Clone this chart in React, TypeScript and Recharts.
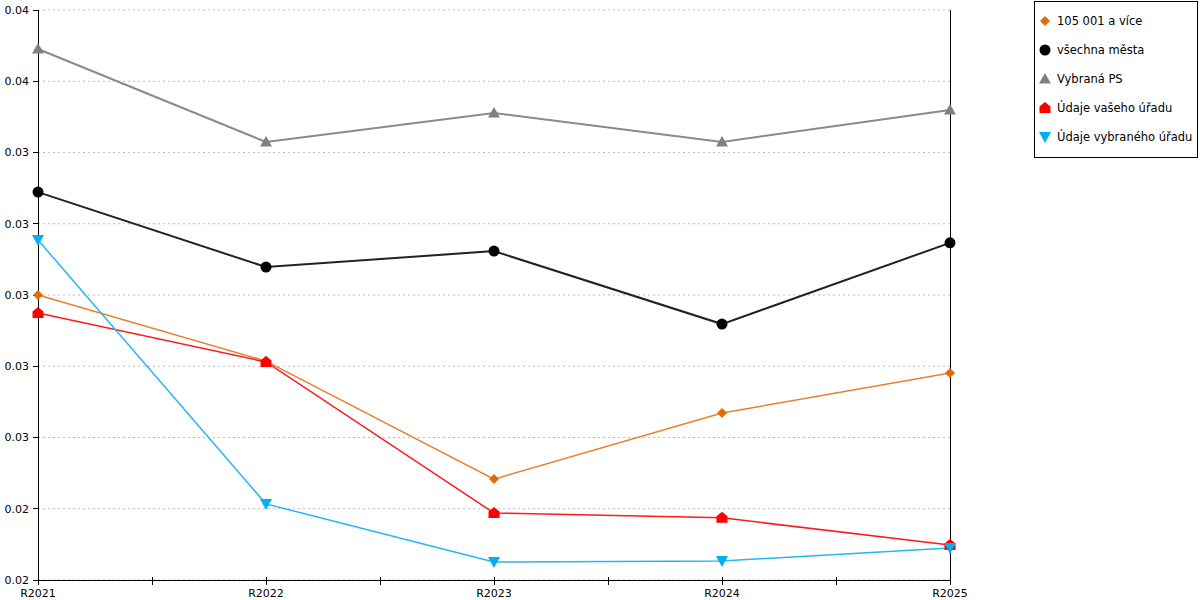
import React from 'react';
import { LineChart, Line, XAxis, YAxis, CartesianGrid, Legend, ReferenceLine } from 'recharts';

// years on the x axis
const categories = ['R2021', 'R2022', 'R2023', 'R2024', 'R2025'];

// series values
const mestaNad105 = [0.03, 0.02768, 0.02354, 0.02586, 0.02726];
const vsechnaMesta = [0.03361, 0.03098, 0.03154, 0.02898, 0.03183];
const vybranaPS = [0.03863, 0.03537, 0.03639, 0.03537, 0.03649];
const vasUrad = [0.02937, 0.02765, 0.02235, 0.02218, 0.02123];
const vybranyUrad = [0.03193, 0.02267, 0.02063, 0.02067, 0.02112];

const yTicks = [0.02, 0.0225, 0.025, 0.0275, 0.03, 0.0325, 0.035, 0.0375, 0.04];
const yTickLabels = ['0.02', '0.02', '0.03', '0.03', '0.03', '0.03', '0.03', '0.04', '0.04'];
const xTicks = [0, 0.5, 1, 1.5, 2, 2.5, 3, 3.5, 4];

const FONT = '"DejaVu Sans", Verdana, sans-serif';

const series = [
  { key: 'nad105', name: '105 001 a více', color: '#E36C0A', line: '#E8802E', width: 1.5, shape: 'diamond' },
  { key: 'vsechna', name: 'všechna města', color: '#000000', line: '#222222', width: 2, shape: 'circle' },
  { key: 'ps', name: 'Vybraná PS', color: '#808080', line: '#8a8a8a', width: 2, shape: 'triangle' },
  { key: 'vas', name: 'Údaje vašeho úřadu', color: '#FF0000', line: '#FF1a1a', width: 1.5, shape: 'house' },
  { key: 'vybrany', name: 'Údaje vybraného úřadu', color: '#00B0F0', line: '#22B8F0', width: 1.5, shape: 'down' },
];

const data = categories.map((c, i) => ({
  idx: i,
  label: c,
  nad105: mestaNad105[i],
  vsechna: vsechnaMesta[i],
  ps: vybranaPS[i],
  vas: vasUrad[i],
  vybrany: vybranyUrad[i],
}));

function Marker({ shape, cx, cy, fill }: { shape: string; cx: number; cy: number; fill: string }) {
  switch (shape) {
    case 'diamond':
      return <path d={`M${cx},${cy - 5}L${cx + 5},${cy}L${cx},${cy + 5}L${cx - 5},${cy}Z`} fill={fill} />;
    case 'circle':
      return <circle cx={cx} cy={cy} r={5.5} fill={fill} />;
    case 'triangle':
      return <path d={`M${cx},${cy - 6}L${cx + 6},${cy + 4.5}L${cx - 6},${cy + 4.5}Z`} fill={fill} />;
    case 'house':
      return (
        <path
          d={`M${cx},${cy - 6}L${cx + 5.5},${cy - 1.5}L${cx + 5.5},${cy + 5}L${cx - 5.5},${cy + 5}L${cx - 5.5},${cy - 1.5}Z`}
          fill={fill}
        />
      );
    default:
      return <path d={`M${cx - 6},${cy - 5}L${cx + 6},${cy - 5}L${cx},${cy + 6}Z`} fill={fill} />;
  }
}

function XTick(props: any) {
  const { x, y, payload } = props;
  const v = payload.value as number;
  const isCat = Number.isInteger(v);
  return (
    <g>
      <line x1={x} x2={x} y1={y - 3} y2={y + 5} stroke="#000" shapeRendering="crispEdges" />
      {isCat && (
        <text x={x} y={y + 17} textAnchor="middle" fontSize={11} fontFamily={FONT} fill="#000">
          {categories[v]}
        </text>
      )}
    </g>
  );
}

function LegendBox() {
  return (
    <div
      style={{
        width: 162,
        height: 151,
        border: '1px solid #000',
        background: '#fff',
        fontFamily: FONT,
        fontSize: 11.5,
        color: '#000',
        paddingTop: 4,
        boxSizing: 'content-box',
      }}
    >
      {series.map((s) => (
        <div key={s.key} style={{ height: 29, display: 'flex', alignItems: 'center', whiteSpace: 'nowrap' }}>
          <svg width={20} height={14} style={{ marginLeft: 2 }}>
            <Marker shape={s.shape} cx={8} cy={7} fill={s.color} />
          </svg>
          <span>{s.name}</span>
        </div>
      ))}
    </div>
  );
}

export default function App() {
  return (
    <div style={{ position: 'absolute', left: 0, top: 0, background: '#fff' }}>
      <LineChart width={1200} height={600} data={data} margin={{ top: 10, right: 250, bottom: 0, left: 0 }}>
        <CartesianGrid vertical={false} stroke="#bdbdbd" strokeDasharray="2 3" />
        <XAxis
          dataKey="idx"
          type="number"
          domain={[0, 4]}
          ticks={xTicks}
          interval={0}
          height={20}
          tickLine={false}
          tickSize={0}
          tickMargin={0}
          axisLine={{ stroke: '#000', shapeRendering: 'crispEdges' }}
          tick={<XTick />}
        />
        <YAxis
          type="number"
          domain={[0.02, 0.04]}
          ticks={yTicks}
          interval={0}
          width={38}
          tickSize={5}
          tickMargin={4}
          axisLine={{ stroke: '#000', shapeRendering: 'crispEdges' }}
          tickLine={{ stroke: '#000', shapeRendering: 'crispEdges' }}
          tick={{ fontSize: 11, fontFamily: FONT, fill: '#000' }}
          tickFormatter={(_v: number, i: number) => yTickLabels[i]}
        />
        <ReferenceLine x={4} stroke="#000" strokeOpacity={1} shapeRendering="crispEdges" />
        {series.map((s) => (
          <Line
            key={s.key}
            type="linear"
            dataKey={s.key}
            name={s.name}
            stroke={s.line}
            strokeWidth={s.width}
            isAnimationActive={false}
            activeDot={false}
            dot={(p: any) => <Marker key={`${s.key}-${p.index}`} shape={s.shape} cx={p.cx} cy={p.cy} fill={s.color} />}
          />
        ))}
        <Legend
          layout="vertical"
          align="center"
          verticalAlign="middle"
          wrapperStyle={{ left: 1034, top: 1 }}
          content={() => <LegendBox />}
        />
      </LineChart>
    </div>
  );
}
